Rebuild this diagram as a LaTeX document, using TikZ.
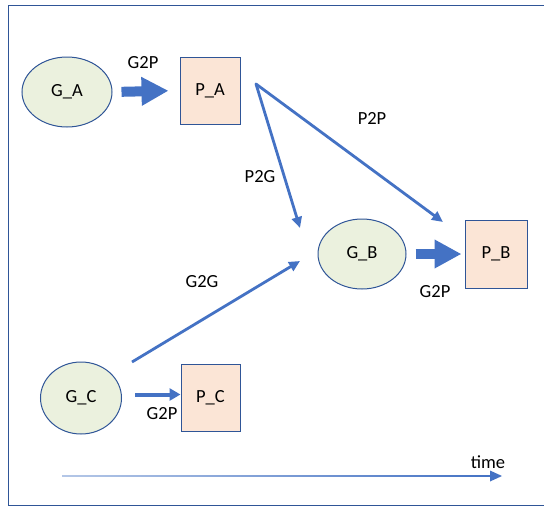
\documentclass[tikz,border=0pt]{standalone}
\usepackage{fontspec}
\setmainfont{Carlito}
\usetikzlibrary{arrows.meta,shapes.geometric}
\definecolor{lineblue}{HTML}{4472C4}
\definecolor{darkblue}{HTML}{2F5597}
\definecolor{gfill}{HTML}{EBF1DE}
\definecolor{pfill}{HTML}{FBE5D6}
\definecolor{lightblue}{HTML}{B4C7E7}
\tikzset{
  txt/.style={font=\fontsize{18.5}{22}\selectfont},
  gnode/.style={ellipse, draw=darkblue, fill=gfill, line width=1pt, inner sep=0pt, txt},
  pnode/.style={rectangle, draw=darkblue, fill=pfill, line width=1pt, inner sep=0pt, txt},
  lbl/.style={txt, inner sep=0pt},
  bigarrow/.style={draw=lineblue, line width=10pt, -{Triangle[length=27pt,width=27pt]}},
  midarrow/.style={draw=lineblue, line width=4pt, -{Triangle[length=11pt,width=12pt]}},
  thinarrow/.style={draw=lineblue, line width=2.8pt, -{Triangle[length=11pt,width=10pt]}},
}
\begin{document}
\begin{tikzpicture}[x=1pt,y=-1pt]
\useasboundingbox (0,0) rectangle (544,507);
% frame
\draw[darkblue, line width=1.5pt] (544,5.5) -- (8.5,5.5) -- (8.5,505.5) -- (544,505.5);
% nodes
\node[gnode, minimum width=90pt, minimum height=70pt] (ga) at (67,92) {G\_A};
\node[pnode, minimum width=60pt, minimum height=67pt] (pa) at (210,90.5) {P\_A};
\node[gnode, minimum width=88pt, minimum height=70pt] (gb) at (362,254) {G\_B};
\node[pnode, minimum width=62pt, minimum height=68pt] (pb) at (496,254) {P\_B};
\node[gnode, minimum width=81pt, minimum height=72pt] (gc) at (81,398) {G\_C};
\node[pnode, minimum width=59pt, minimum height=67pt] (pc) at (210.5,398) {P\_C};
% coordinates for free ends
\coordinate (fork) at (256,84);
\coordinate (p2gend) at (300,228);
\coordinate (p2pend) at (443,222);
\coordinate (g2gstart) at (132,362);
\coordinate (g2gend) at (300,261);
% big arrows
\draw[bigarrow, shorten <=9pt, shorten >=11pt] (ga.east) -- (pa.west);
\draw[bigarrow, shorten <=9pt, shorten >=3pt] (gb.east) -- (pb.west);
\draw[midarrow, shorten <=13pt, shorten >=0pt] ([yshift=3.5pt]gc.east) -- ([yshift=3.5pt]pc.west);
% thin arrows
\draw[thinarrow, line cap=round] (fork) -- (p2pend);
\draw[thinarrow, line cap=round] (fork) -- (p2gend);
\draw[thinarrow] (g2gstart) -- (g2gend);
% time arrow
\shade[left color=lightblue, right color=lineblue] (62,475.2) rectangle (492,476.8);
\fill[lineblue] (490,470.5) -- (502,476) -- (490,481.5) -- cycle;
% labels
\node[lbl] (l1) at (143,63) {G2P};
\node[lbl] (l2) at (372,118) {P2P};
\node[lbl] (l3) at (260,177) {P2G};
\node[lbl] (l4) at (202,282) {G2G};
\node[lbl] (l5) at (435,292) {G2P};
\node[lbl] (l6) at (162,414) {G2P};
\node[lbl] (l7) at (488,462) {time};
\end{tikzpicture}
\end{document}
